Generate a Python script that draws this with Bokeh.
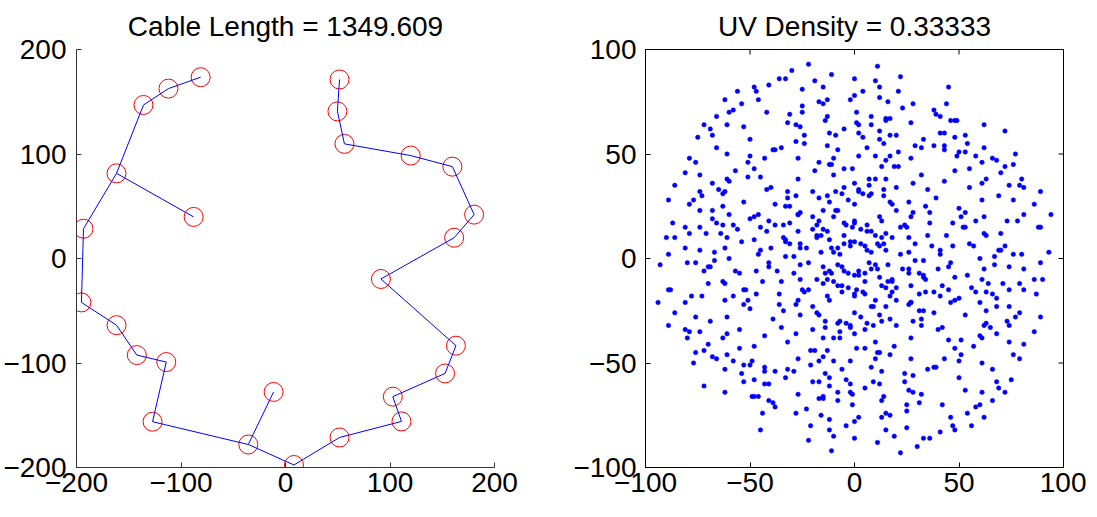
import numpy as np
from bokeh.plotting import figure
from bokeh.layouts import row
from bokeh.models import Range1d, FixedTicker, ColumnDataSource
from bokeh.embed import file_html
from bokeh.resources import INLINE

# ---- data ----
# antenna positions (left panel)
ant_x = [-81.2, -112.0, -135.9, -161.7, -87.9, -193.3, -195.3, -161.7, -142.3,
         -114.1, -127.2, -35.6, -11.4, 8.1, 51.7, 111.0, 102.7, 152.7, 163.1,
         91.3, 161.4, 180.5, 159.7, 119.8, 56.4, 49.7, 51.7]
ant_y = [173.5, 162.6, 146.9, 81.5, 39.8, 28.5, -42.0, -63.8, -92.4,
         -99.1, -156.2, -178.0, -127.7, -197.6, -171.3, -155.9, -132.2, -110.0, -83.4,
         -19.6, 19.9, 42.0, 87.9, 98.5, 109.7, 140.8, 171.3]
# cable tree: pairs of antenna indices joined by a cable
cable_from = [0, 1, 2, 3, 3, 5, 6, 7, 8, 9, 10, 11, 11, 13, 14, 15, 16, 17, 18, 19, 20, 21, 22, 23, 24, 25]
cable_to = [1, 2, 3, 4, 5, 6, 7, 8, 9, 10, 11, 12, 13, 14, 15, 16, 17, 18, 19, 20, 21, 22, 23, 24, 25, 26]
# uv plane = antenna baselines (both directions) scaled and gridded to whole units
uv_scale = 0.25
left_ticks = [-200, -100, 0, 100, 200]
uv_ticks = [-100, -50, 0, 50, 100]
left_title = "Cable Length = 1349.609"
right_title = "UV Density = 0.33333"

FONT = "Liberation Sans"
FS = "28px"


def style_axis(ax, ticks, color, standoff):
    ax.ticker = FixedTicker(ticks=ticks)
    ax.major_tick_in = 5
    ax.major_tick_out = 0
    ax.minor_tick_in = 0
    ax.minor_tick_out = 0
    ax.axis_line_color = color
    ax.axis_line_width = 1
    ax.major_tick_line_color = color
    ax.major_label_text_font = FONT
    ax.major_label_text_color = "black"
    ax.major_label_text_font_size = FS
    ax.major_label_standoff = standoff


def style_title(p, standoff):
    p.title.text_font = FONT
    p.title.text_font_size = FS
    p.title.text_font_style = "normal"
    p.title.text_color = "black"
    p.title.align = "center"
    p.title.standoff = standoff


# ---- left panel: array layout with cables ----
p1 = figure(frame_width=418, frame_height=418,
            x_range=Range1d(left_ticks[0], left_ticks[-1]),
            y_range=Range1d(left_ticks[0], left_ticks[-1]),
            min_border_left=71, min_border_right=63,
            min_border_top=44, min_border_bottom=39,
            output_backend="svg", toolbar_location=None, title=left_title)
p1.outline_line_color = None
p1.grid.visible = False
style_title(p1, 16)
style_axis(p1.xaxis[0], left_ticks, "#333333", standoff=5)
style_axis(p1.yaxis[0], left_ticks, "#333333", standoff=10)

ax_arr = np.array(ant_x)
ay_arr = np.array(ant_y)
seg = ColumnDataSource(dict(
    x0=ax_arr[cable_from], y0=ay_arr[cable_from],
    x1=ax_arr[cable_to], y1=ay_arr[cable_to]))
p1.scatter(ant_x, ant_y, marker="circle", size=19, fill_color=None,
           line_color="#ff0000", line_width=1)
p1.segment("x0", "y0", "x1", "y1", source=seg, line_color="#0000ff", line_width=1)

# ---- right panel: uv coverage ----
n = len(ant_x)
ii, jj = np.where(~np.eye(n, dtype=bool))
u = np.round((ax_arr[ii] - ax_arr[jj]) * uv_scale)
v = np.round((ay_arr[ii] - ay_arr[jj]) * uv_scale)

p2 = figure(frame_width=418, frame_height=418,
            x_range=Range1d(uv_ticks[0], uv_ticks[-1]),
            y_range=Range1d(uv_ticks[0], uv_ticks[-1]),
            min_border_left=88, min_border_right=23,
            min_border_top=44, min_border_bottom=39,
            output_backend="svg", toolbar_location=None, title=right_title)
p2.outline_line_color = "black"
p2.outline_line_width = 1
p2.grid.visible = False
style_title(p2, 16)
style_axis(p2.xaxis[0], uv_ticks, "black", standoff=5)
style_axis(p2.yaxis[0], uv_ticks, "black", standoff=9)
# mirrored inward tick marks on the top and right edges of the box
edge_hi = [uv_ticks[-1]] * len(uv_ticks)
p2.scatter(uv_ticks, edge_hi, marker="dash", angle=np.pi / 2, size=10,
           line_color="black", line_width=1)
p2.scatter(edge_hi, uv_ticks, marker="dash", size=10,
           line_color="black", line_width=1)
p2.scatter(u, v, marker="circle", size=4.5, fill_color="#0000ff",
           line_color="#0000ff", line_width=0.5)

layout = row(p1, p2)
open("out.html", "w").write(file_html(layout, INLINE))
